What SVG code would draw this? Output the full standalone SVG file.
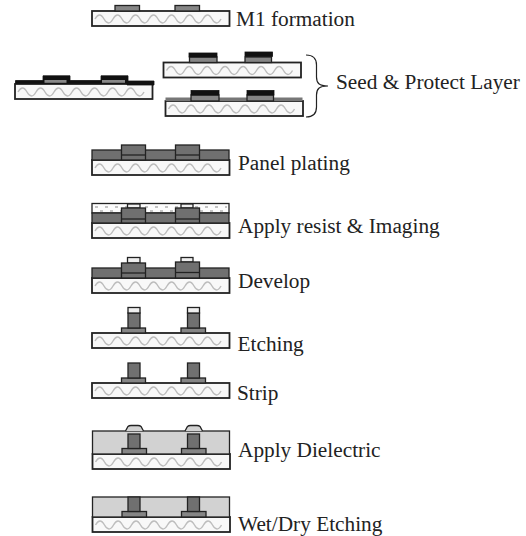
<svg xmlns="http://www.w3.org/2000/svg" xmlns:xlink="http://www.w3.org/1999/xlink" width="526" height="536" viewBox="0 0 526 536">
<style>
.o{stroke:#222;stroke-width:1.3;}
.m{fill:#707070;}
.p{fill:#858585;}
.k{fill:#111;stroke:#111;stroke-width:.8;}
.r{fill:#efefef;}
.d{fill:#d2d2d2;}
.t{font:21.300px "Liberation Serif","Times New Roman",serif;fill:#222;}
.w{fill:none;stroke:#bdbdbd;stroke-width:1.400;}
.l{fill:none;stroke:#222;stroke-width:1.200;}
.s{fill:none;stroke:#c4c4c4;stroke-width:2;stroke-dasharray:3 7;}
</style>
<defs>
<g id="sub">
<rect width="137.500" height="15" fill="#f8f8f8" stroke="#222" stroke-width="1.800"/>
<path class="w" d="M3 8q4.500 -8 9 0t9 0t9 0t9 0t9 0t9 0t9 0t9 0t9 0t9 0t9 0t9 0t9 0t9 0"/>
</g>
</defs>
<g id="m1">
<use xlink:href="#sub" x="92" y="11"/>
<rect class="p o" x="115" y="5.500" width="24.500" height="5.500"/><rect class="p o" x="175" y="5.500" width="24.500" height="5.500"/>
<text class="t" x="236" y="26">M1 formation</text>
</g>
<g id="seed-left">
<use xlink:href="#sub" x="15" y="84"/>
<path class="k" d="M15.500 83.500V80.500H43V75.800H70V80.500H101V75.800H128V81H154V85H127V83.500Z"/>
<rect fill="#888" x="44.500" y="80" width="22" height="2.800"/><rect fill="#888" x="102" y="80" width="23" height="2.800"/>
</g>
<g id="seed-a">
<use xlink:href="#sub" x="163.500" y="62.500"/>
<rect class="p o" x="189.500" y="57" width="27.500" height="5.500"/><rect class="p o" x="245" y="57" width="26.500" height="5.500"/>
<rect class="k" x="189" y="53" width="28" height="4"/><rect class="k" x="245" y="52" width="27.500" height="4.500"/>
</g>
<g id="seed-b">
<use xlink:href="#sub" x="165.500" y="101"/>
<rect fill="#777" x="165.500" y="97.500" width="137" height="3.500"/>
<rect class="p o" x="191" y="95" width="28" height="6"/><rect class="p o" x="247" y="95" width="26.500" height="6"/>
<rect class="k" x="191" y="90.500" width="28" height="4.500"/><rect class="k" x="247" y="90.500" width="27" height="4.500"/>
</g>
<g id="seed-label">
<path class="l" d="M306 55C312 55 316.500 57 316.500 65V77C316.500 83 319 86 328 86C319 86 316.500 89 316.500 95V107C316.500 115 312 117 306 117"/>
<text class="t" x="336" y="88.500">Seed &amp; Protect Layer</text>
</g>
<g id="panel">
<use xlink:href="#sub" x="92" y="160"/>
<rect class="m o" x="92" y="150" width="137" height="10"/>
<rect class="m o" x="121.500" y="145" width="24" height="15"/><path class="o" d="M121.500 155H145.500"/>
<rect class="m o" x="175.500" y="145" width="24" height="15"/><path class="o" d="M175.500 155H199.500"/>
<text class="t" x="238" y="170">Panel plating</text>
</g>
<g id="resist">
<use xlink:href="#sub" x="92" y="223"/>
<rect fill="#fdfdfd" class="o" x="92" y="203.500" width="137" height="9.500"/>
<path class="s" d="M95 207H227M100 211H227"/>
<rect class="m o" x="92" y="213" width="137" height="10"/>
<rect class="r o" x="127.500" y="204" width="12.500" height="4"/><rect class="r o" x="181" y="204" width="12" height="4"/>
<rect class="m o" x="121.500" y="208" width="24" height="15"/><path class="o" d="M121.500 219H145.500"/>
<rect class="m o" x="175.500" y="208" width="24" height="15"/><path class="o" d="M175.500 219H199.500"/>
<text class="t" x="238" y="233">Apply resist &amp; Imaging</text>
</g>
<g id="develop">
<use xlink:href="#sub" x="92" y="278"/>
<rect class="m o" x="92" y="268" width="137" height="10"/>
<rect class="r o" x="127.500" y="257.500" width="12.500" height="5.500"/><rect class="r o" x="181" y="257.500" width="12" height="4.500"/>
<rect class="m o" x="121.500" y="263" width="24" height="15"/><path class="o" d="M121.500 273H145.500"/>
<rect class="m o" x="175.500" y="262" width="24" height="16"/><path class="o" d="M175.500 272.500H199.500"/>
<text class="t" x="238" y="288">Develop</text>
</g>
<g id="etching">
<use xlink:href="#sub" x="92" y="333"/>
<rect class="p o" x="121.500" y="328" width="24" height="5"/><rect class="p o" x="181" y="328" width="24.500" height="5"/>
<rect class="m o" x="128" y="313" width="12" height="15"/><rect class="m o" x="187.500" y="313" width="12" height="15"/>
<rect class="r o" x="128" y="307.500" width="12" height="5.500"/><rect class="r o" x="187.500" y="307.500" width="12" height="5.500"/>
<text class="t" x="237.500" y="350.500">Etching</text>
</g>
<g id="strip">
<use xlink:href="#sub" x="92" y="383"/>
<rect class="p o" x="121.500" y="378" width="24" height="5"/><rect class="p o" x="181" y="378" width="24.500" height="5"/>
<rect class="m o" x="128" y="363" width="12" height="15"/><rect class="m o" x="187.500" y="363" width="12" height="15"/>
<text class="t" x="237" y="400">Strip</text>
</g>
<g id="dielectric">
<use xlink:href="#sub" x="92.500" y="454"/>
<rect class="d o" x="92.500" y="431" width="137" height="23"/>
<path class="d o" d="M125.500 431L128 426.500Q129 425.500 131 425.500H138Q140 425.500 141 426.500L143.500 431"/>
<path class="d o" d="M185 431L187.500 426.500Q188.500 425.500 190.500 425.500H197Q199 425.500 200 426.500L202.500 431"/>
<rect class="p o" x="122" y="448.500" width="24.500" height="5.500"/><rect class="p o" x="181.500" y="448.500" width="24.500" height="5.500"/>
<rect class="m o" x="128" y="434" width="12" height="14.500"/><rect class="m o" x="187.500" y="434" width="12" height="14.500"/>
<text class="t" x="238" y="457">Apply Dielectric</text>
</g>
<g id="wet">
<use xlink:href="#sub" x="92.500" y="517"/>
<rect class="d o" x="92.500" y="497" width="137" height="20"/>
<rect class="p o" x="122" y="511.500" width="24.500" height="5.500"/><rect class="p o" x="181.500" y="511.500" width="24.500" height="5.500"/>
<rect class="m o" x="128" y="497" width="12" height="14.500"/><rect class="m o" x="187.500" y="497" width="12" height="14.500"/>
<text class="t" x="238" y="531">Wet/Dry Etching</text>
</g>
<g id="connectors"></g>
</svg>
